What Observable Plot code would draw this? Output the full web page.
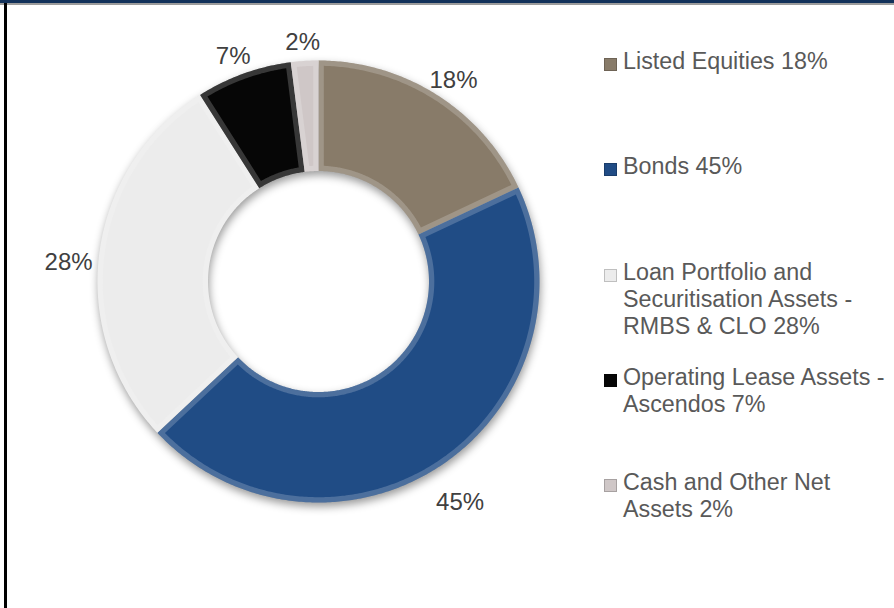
<!DOCTYPE html>
<html>
<head>
<meta charset="utf-8">
<script src="https://cdn.jsdelivr.net/npm/d3@7"></script>
<script src="https://cdn.jsdelivr.net/npm/@observablehq/plot@0.6"></script>
<style>
  html, body { margin: 0; padding: 0; background: #fff; }
  #wrap { position: relative; width: 894px; height: 608px; overflow: hidden; background: #fff;
          font-family: "Liberation Sans", Arial, sans-serif; }
  #topbar { position: absolute; left: 0; top: 0; width: 894px; height: 3px; background: #12315a; }
  #topline { position: absolute; left: 0; top: 3px; width: 894px; height: 2px; background: #9c9c9c; }
  #leftbar { position: absolute; left: 4px; top: 3px; width: 3px; height: 605px; background: #000; }
  #chart { position: absolute; left: 0; top: 0; }
  #legend { position: absolute; left: 604px; top: 48px; }
  .item { position: relative; height: 105.3px; }
  .sw { position: absolute; left: 0; top: 10px; width: 11px; height: 11px; border: 1px solid; }
  .lt { position: absolute; left: 19px; top: 0; white-space: pre; font-size: 23.3px; line-height: 27px; color: #595959; }
</style>
</head>
<body>
<div id="wrap">
  <div id="chart"></div>
  <div id="legend"></div>
  <div id="topbar"></div>
  <div id="topline"></div>
  <div id="leftbar"></div>
</div>
<script>
// ---- data ----
const categories = [
  "Listed Equities",
  "Bonds",
  "Loan Portfolio and\nSecuritisation Assets -\nRMBS & CLO",
  "Operating Lease Assets -\nAscendos",
  "Cash and Other Net\nAssets"
];
const values = [18, 45, 28, 7, 2];
const sliceColors = ["#887b69", "#204c85", "#ececec", "#060606", "#cfc7c7"];

// ---- geometry (unit circle, angles clockwise from 12 o'clock) ----
const innerR = 0.5, outerR = 1;
const pie = d3.pie().sort(null).value(d => d.value).startAngle(0).endAngle(2 * Math.PI);
const arcs = pie(categories.map((c, i) => ({cat: c, value: values[i]})));

function slicePolygon(a, inset) {
  const pts = [];
  const r0 = innerR + inset, r1 = outerR - inset;
  const a0o = a.startAngle + inset / r1, a1o = a.endAngle - inset / r1;
  const a0i = a.startAngle + inset / r0, a1i = a.endAngle - inset / r0;
  const n = Math.max(4, Math.ceil((a.endAngle - a.startAngle) / 0.01));
  for (let k = 0; k <= n; k++) {
    const t = a0o + (a1o - a0o) * k / n;
    pts.push({cat: a.data.cat, x: r1 * Math.sin(t), y: r1 * Math.cos(t)});
  }
  for (let k = n; k >= 0; k--) {
    const t = a0i + (a1i - a0i) * k / n;
    pts.push({cat: a.data.cat, x: r0 * Math.sin(t), y: r0 * Math.cos(t)});
  }
  return pts;
}
const outerPts = arcs.flatMap(a => slicePolygon(a, 0));
const innerPts = arcs.flatMap(a => slicePolygon(a, 0.024));

const labelR = 1.14;
const labels = arcs.map(a => {
  const m = (a.startAngle + a.endAngle) / 2;
  return {text: a.data.value + "%", x: labelR * Math.sin(m), y: labelR * Math.cos(m)};
});

const plot = Plot.plot({
  width: 894,
  height: 608,
  margin: 0,
  style: {fontFamily: "'Liberation Sans', Arial, sans-serif", background: "transparent", overflow: "visible"},
  x: {domain: [-1, 1], range: [97, 539], axis: null},
  y: {domain: [-1, 1], range: [502, 60], axis: null},
  color: {domain: categories, range: sliceColors},
  marks: [
    Plot.line(outerPts, {x: "x", y: "y", z: "cat", fill: "cat", stroke: "none", curve: "linear-closed"}),
    Plot.line(outerPts, {x: "x", y: "y", z: "cat", fill: "white", fillOpacity: 0.2, stroke: "none", curve: "linear-closed"}),
    Plot.line(innerPts, {x: "x", y: "y", z: "cat", fill: "cat", stroke: "none", curve: "linear-closed"}),
    Plot.text(labels, {x: "x", y: "y", text: "text", fontSize: 24, fill: "#404040", dy: 12})
  ]
});
document.getElementById("chart").appendChild(plot);

const groups = plot.querySelectorAll('g[aria-label="line"]');
if (groups[0]) groups[0].style.filter = "drop-shadow(1px 4px 4px rgba(0,0,0,0.4))";

// ---- legend ----
const legend = document.getElementById("legend");
categories.forEach((c, i) => {
  const item = document.createElement("div");
  item.className = "item";
  const sw = document.createElement("div");
  sw.className = "sw";
  const col = d3.color(sliceColors[i]);
  sw.style.background = sliceColors[i];
  sw.style.borderColor = col.darker(0.6).formatHex();
  const t = document.createElement("div");
  t.className = "lt";
  t.textContent = c + " " + values[i] + "%";
  item.appendChild(sw);
  item.appendChild(t);
  legend.appendChild(item);
});
</script>
</body>
</html>
